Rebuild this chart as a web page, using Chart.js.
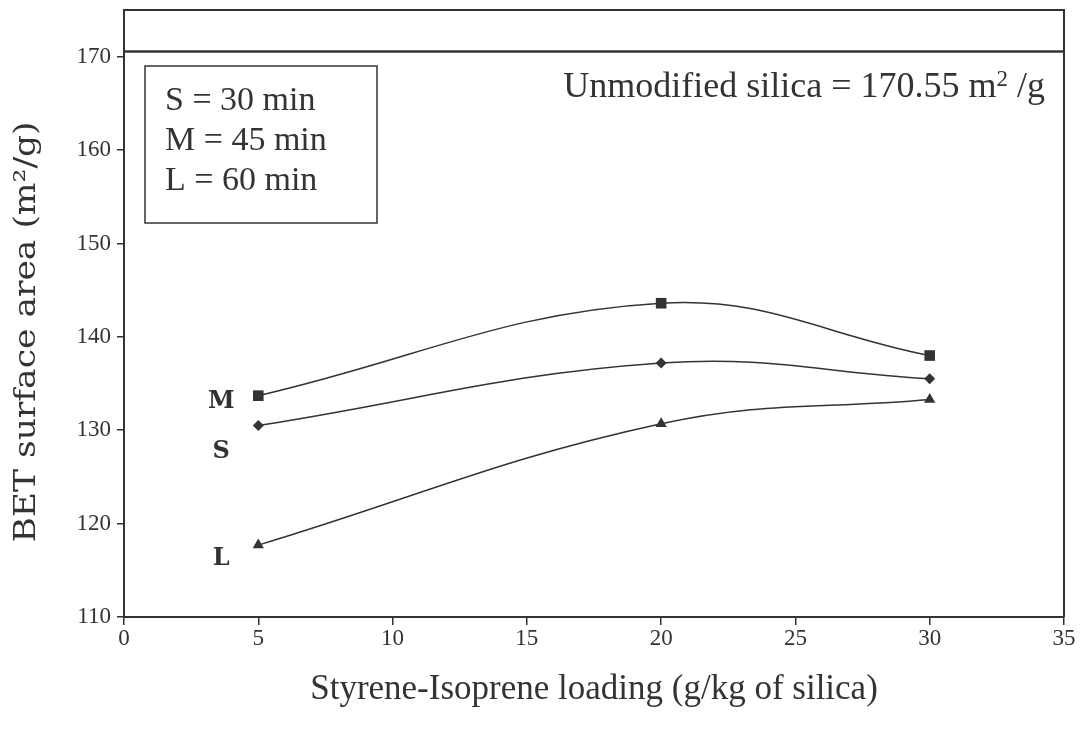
<!DOCTYPE html>
<html>
<head>
<meta charset="utf-8">
<script src="https://cdn.jsdelivr.net/npm/chart.js@4"></script>
<style>
  body { margin: 0; background: #fff; }
  canvas { display: block; }
</style>
</head>
<body>
<canvas id="myChart" width="1085" height="741"></canvas>
<script>
// loading (g/kg of silica)
const loadings = [5, 20, 30];
// BET surface area, m2/g
const sValues = [130.5, 137.2, 135.5];
const mValues = [133.7, 143.6, 138.0];
const lValues = [117.7, 130.7, 133.3];
const unmodified = 170.55;
const seriesNames = ['M', 'S', 'L'];
const legendLines = ['S = 30 min', 'M = 45 min', 'L = 60 min'];

const ink = '#333';
const serif = "'Liberation Serif', 'Times New Roman', serif";
const wide = "'DejaVu Serif', serif";

function points(ys) {
    return loadings.map((x, i) => ({ x: x, y: ys[i] }));
}

function series(label, ys, style, radius) {
    return {
        label: label,
        data: points(ys),
        borderColor: ink,
        backgroundColor: ink,
        borderWidth: 1.5,
        tension: 0.4,
        pointStyle: style,
        pointRadius: radius,
        pointBorderWidth: 0
    };
}

// frame, legend box, y title and text labels
const notes = {
    id: 'notes',
    afterDraw(chart) {
        const ctx = chart.ctx;
        const a = chart.chartArea;
        const xs = chart.scales.x;
        const ys = chart.scales.y;
        ctx.save();
        ctx.strokeStyle = ink;
        ctx.lineWidth = 2;
        ctx.beginPath();
        ctx.moveTo(a.left, a.top);
        ctx.lineTo(a.right, a.top);
        ctx.lineTo(a.right, a.bottom);
        ctx.stroke();

        // legend box
        ctx.lineWidth = 1.5;
        ctx.strokeRect(145, 66, 232, 157);
        ctx.fillStyle = ink;
        ctx.font = '34px ' + serif;
        ctx.textBaseline = 'middle';
        ctx.textAlign = 'left';
        legendLines.forEach((t, i) => ctx.fillText(t, 165, 101 + i * 40));

        // y axis title (the original face is wider than DejaVu, so stretch a bit)
        ctx.save();
        ctx.translate(27, 332);
        ctx.rotate(-Math.PI / 2);
        ctx.scale(1.15, 1);
        ctx.textAlign = 'center';
        ctx.font = '30px ' + wide;
        ctx.fillText('BET surface area (m²/g)', 0, 0);
        ctx.restore();

        // reference value text
        const refY = ys.getPixelForValue(unmodified);
        const main = 'Unmodified silica = ' + unmodified.toFixed(2) + ' m';
        const big = '500 36px ' + serif;
        const small = '23px ' + serif;
        ctx.font = big;
        const w1 = ctx.measureText(main).width;
        ctx.font = small;
        const w2 = ctx.measureText('2').width;
        ctx.font = big;
        const w3 = ctx.measureText(' /g').width;
        let x = 1045 - (w1 + w2 + w3);
        const y = refY + 36;
        ctx.fillText(main, x, y);
        x += w1;
        ctx.font = small;
        ctx.fillText('2', x, y - 8);
        x += w2;
        ctx.font = big;
        ctx.fillText(' /g', x, y);

        // series letters next to first points
        ctx.font = 'bold 24px ' + wide;
        ctx.textAlign = 'center';
        const dy = { M: 6, S: 26, L: 14 };
        const firsts = { M: mValues[0], S: sValues[0], L: lValues[0] };
        seriesNames.forEach(n => {
            ctx.fillText(n, xs.getPixelForValue(loadings[0]) - 37, ys.getPixelForValue(firsts[n]) + dy[n]);
        });
        ctx.restore();
    }
};

new Chart(document.getElementById('myChart'), {
    type: 'line',
    data: {
        datasets: [
            series('M', mValues, 'rect', 7.5),
            series('S', sValues, 'rectRot', 5.5),
            series('L', lValues, 'triangle', 6.5),
            {
                label: 'Unmodified silica',
                data: [{ x: 0, y: unmodified }, { x: 35, y: unmodified }],
                borderColor: ink,
                borderWidth: 2.5,
                pointRadius: 0,
                tension: 0
            }
        ]
    },
    options: {
        responsive: false,
        animation: false,
        layout: { padding: { left: 0, top: 10, right: 21, bottom: 0 } },
        plugins: {
            legend: { display: false },
            tooltip: { enabled: false }
        },
        scales: {
            x: {
                type: 'linear',
                min: 0,
                max: 35,
                ticks: { stepSize: 5, color: ink, font: { family: serif, size: 23 }, padding: 0 },
                grid: { display: true, drawOnChartArea: false, drawTicks: true, tickLength: 8, color: ink, lineWidth: 1.5 },
                border: { display: true, color: ink, width: 2 },
                title: {
                    display: true,
                    text: 'Styrene-Isoprene loading (g/kg of silica)',
                    color: ink,
                    font: { family: serif, size: 35 },
                    padding: { top: 0, bottom: 30 }
                },
                afterFit(s) { s.height = 124; s.paddingLeft = 0; s.paddingRight = 0; }
            },
            y: {
                min: 110,
                max: 175,
                ticks: { stepSize: 10, color: ink, font: { family: serif, size: 23 }, padding: 6 },
                afterBuildTicks(s) { s.ticks = s.ticks.filter(t => t.value <= 170); },
                grid: { display: true, drawOnChartArea: false, drawTicks: true, tickLength: 7, color: ink, lineWidth: 1.5 },
                border: { display: true, color: ink, width: 2 },
                afterFit(s) { s.width = 124; s.paddingTop = 0; s.paddingBottom = 0; }
            }
        }
    },
    plugins: [notes]
});
</script>
</body>
</html>
